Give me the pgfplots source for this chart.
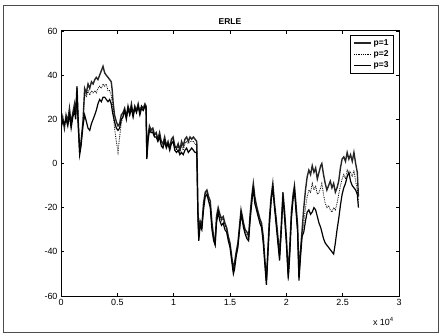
\documentclass[border=0pt]{standalone}
\usepackage{fontspec}
\setmainfont{Liberation Sans}
\usepackage{pgfplots}
\usepackage{pgfplotstable}
\pgfplotsset{compat=1.18}
\pgfplotstableread{
x p1 p2 p3
0 17 18 16
150 21 20 19
300 16 17 18
450 22 21 20
600 19 18 17
750 25 23 22
900 18 19 16
1050 23 22 21
1200 27 25 24
1300 22 21 20
1420 35 34 33
1520 20 21 18
1660 5 6 4
1780 10 9 8
1950 19 18 17
2100 34 32 22
2250 32 30 19
2400 36 33 16
2550 34 31 15
2700 37 33 18
2850 36 32 20
3000 38 33 22
3130 39 32 24
3280 38 34 27
3430 40 35 29
3580 42 34 28
3730 44 36 30
3880 41 35 30
4020 40 36 29
4170 39 33 28
4320 38 33 29
4460 37 31 27
4550 33 27 24
4620 28 24 22
4750 22 16 19
4910 19 10 16
5060 17 5 15
5200 18 12 16
5350 22 18 20
5500 23 22 21
5650 25 24 24
5800 21 22 20
5950 26 25 25
6100 23 22 22
6250 27 26 25
6400 22 23 21
6550 26 25 25
6700 24 24 23
6850 27 26 26
7000 23 24 22
7150 26 26 25
7300 25 24 24
7450 27 26 26
7550 26 25 25
7620 3 4 2
7720 12 11 10
7850 17 16 15
8000 15 14 14
8150 16 15 14
8300 13 13 12
8450 14 13 12
8600 11 11 10
8750 14 13 12
8900 10 9 8
9050 9 8 7
9200 12 11 10
9350 8 8 7
9500 10 9 9
9650 7 7 6
9800 11 10 9
9950 12 11 10
10100 8 8 6
10250 7 6 5
10400 9 8 6
10550 6 5 4
10700 10 8 5
10850 8 6 4
11000 11 9 6
11150 12 10 7
11300 10 9 5
11450 12 10 6
11600 11 10 7
11750 12 10 6
11900 11 9 5
12050 10 8 5
12150 -20 -22 -24
12230 -33 -34 -35
12350 -26 -27 -28
12500 -28 -29 -30
12650 -18 -19 -21
12800 -13 -14 -15
12950 -12 -13 -14
13100 -15 -16 -17
13250 -17 -19 -20
13400 -27 -29 -30
13550 -33 -34 -35
13680 -36 -36 -37
13800 -24 -26 -27
13950 -20 -21 -22
14100 -23 -24 -26
14250 -25 -26 -28
14400 -24 -25 -27
14550 -27 -28 -30
14700 -29 -30 -31
14850 -33 -34 -35
15000 -36 -37 -38
15150 -42 -43 -44
15300 -48 -49 -50
15400 -45 -46 -48
15550 -40 -41 -42
15700 -36 -37 -38
15850 -28 -29 -30
15980 -21 -22 -23
16100 -24 -25 -26
16200 -27 -28 -29
16350 -30 -31 -32
16500 -31 -33 -34
16650 -33 -34 -35
16800 -22 -23 -25
16950 -14 -15 -17
17070 -9 -10 -11
17200 -15 -16 -18
17350 -19 -20 -21
17500 -22 -23 -24
17650 -25 -26 -27
17800 -27 -28 -29
17950 -33 -34 -36
18100 -44 -45 -46
18230 -53 -54 -55
18350 -40 -41 -43
18500 -25 -26 -28
18650 -15 -16 -17
18800 -9 -10 -11
18950 -18 -19 -20
19100 -25 -26 -28
19250 -33 -35 -36
19400 -41 -43 -44
19550 -28 -30 -31
19700 -13 -14 -15
19850 -22 -23 -25
20000 -33 -35 -36
20170 -50 -53 -52
20300 -38 -40 -42
20450 -22 -24 -25
20600 -14 -15 -16
20720 -10 -11 -12
20850 -18 -20 -21
21000 -28 -30 -31
21120 -50 -52 -53
21250 -40 -41 -43
21400 -30 -32 -33
21550 -20 -27 -31
21700 -12 -20 -26
21850 -6 -15 -22
22000 -3 -12 -21
22150 -5 -13 -23
22300 -1 -9 -22
22450 -4 -12 -20
22600 -2 -10 -21
22750 -7 -14 -24
22900 -4 -13 -27
23050 -1 -11 -29
23150 0 -9 -31
23300 -5 -14 -34
23450 -9 -18 -36
23600 -12 -20 -37
23750 -10 -19 -38
23900 -8 -21 -39
24050 -11 -22 -40
24200 -9 -20 -41
24350 -13 -21 -36
24500 -11 -18 -30
24650 -8 -14 -25
24800 -2 -10 -19
24950 2 -7 -14
25100 3 -5 -11
25250 1 -7 -9
25400 5 -3 -6
25550 2 -5 -4
25700 4 -4 -8
25850 1 -6 -10
26000 5 -3 -11
26150 0 -8 -12
26300 -4 -12 -14
26400 -15 -18 -20
}\erle
\begin{document}
\begin{tikzpicture}
\path[use as bounding box] (-61bp,-39bp) rectangle (380bp,296bp);
\draw[black!70, line width=0.7pt] (-58bp,-36bp) rectangle (377bp,291bp);
\begin{axis}[
  at={(0,0)}, anchor=south west,
  scale only axis, width=338bp, height=265bp,
  xmin=0, xmax=30000, ymin=-60, ymax=60,
  xtick={0,5000,...,30000},
  xticklabels={0,0.5,1,1.5,2,2.5,3},
  scaled x ticks=false,
  ytick={-60,-40,...,60},
  /pgf/number format/assume math mode=true,
  tick label style={font=\fontsize{9}{10}\selectfont},
  tick align=inside, major tick length=3bp,
  title={\textbf{ERLE}},
  title style={font=\fontsize{8.5}{10}\selectfont, yshift=-3bp},
  axis line style={line width=1pt},
  every tick/.style={line width=0.8pt, black},
  legend style={at={(0.985,0.985)}, anchor=north east, font=\fontsize{8.5}{11}\selectfont\bfseries,
    draw=black, line width=0.8pt, inner xsep=3pt, inner ysep=2pt, row sep=0pt},
  legend cell align=left,
  legend image code/.code={\draw[#1] (0bp,0bp) -- (17bp,0bp);},
  clip mode=individual,
]
\addplot[black!85, line width=1.4pt] table[x=x,y=p1] {\erle};
\addlegendentry{p=1}
\addplot[black, densely dotted, line width=0.8pt] table[x=x,y=p2] {\erle};
\addlegendentry{p=2}
\addplot[black, line width=1.2pt] table[x=x,y=p3] {\erle};
\addlegendentry{p=3}
\node[anchor=north east, font=\fontsize{9}{10}\selectfont] at (rel axis cs:0.995,0) [yshift=-18bp] {x 10\textsuperscript{4}};
\end{axis}
\end{tikzpicture}
\end{document}
